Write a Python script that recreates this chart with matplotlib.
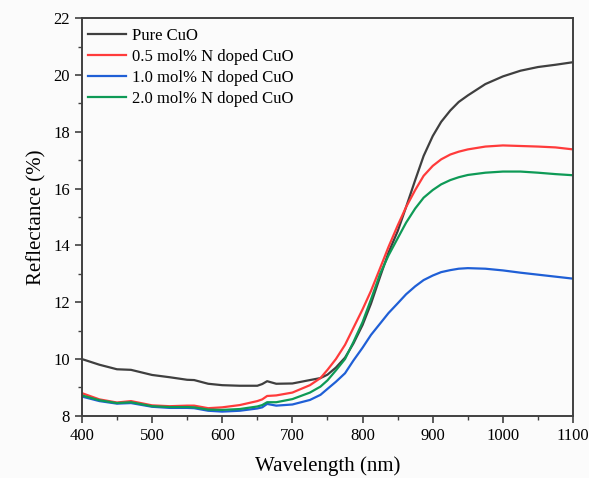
import matplotlib
matplotlib.use("Agg")
import matplotlib.pyplot as plt
from matplotlib.ticker import MultipleLocator

wavelength = [400, 425, 450, 470, 500, 525, 550, 560, 580, 600, 625, 650, 657, 664, 677,
              700, 725, 740, 750, 762, 775, 787, 800, 812, 825, 837, 850, 862, 875, 887,
              900, 912, 925, 937, 950, 975, 1000, 1025, 1050, 1075, 1100]

pure_cuo = [10.0, 9.8, 9.64, 9.62, 9.44, 9.36, 9.27, 9.26, 9.13, 9.08, 9.06, 9.06, 9.12, 9.22, 9.13,
            9.14, 9.26, 9.33, 9.45, 9.7, 10.05, 10.55, 11.2, 11.95, 12.9, 13.75, 14.5, 15.35, 16.3, 17.15,
            17.85, 18.35, 18.75, 19.05, 19.28, 19.68, 19.95, 20.15, 20.28, 20.36, 20.45]

n05_cuo = [8.8, 8.58, 8.47, 8.52, 8.37, 8.34, 8.36, 8.36, 8.27, 8.30, 8.38, 8.52, 8.58, 8.70, 8.72,
           8.82, 9.08, 9.33, 9.62, 10.0, 10.5, 11.1, 11.75, 12.4, 13.2, 13.95, 14.7, 15.35, 15.95, 16.45,
           16.8, 17.03, 17.2, 17.3, 17.38, 17.48, 17.52, 17.5, 17.48, 17.45, 17.38]

n10_cuo = [8.68, 8.52, 8.43, 8.45, 8.32, 8.28, 8.28, 8.27, 8.18, 8.15, 8.18, 8.26, 8.3, 8.42, 8.36,
           8.4, 8.56, 8.74, 8.95, 9.2, 9.5, 9.95, 10.4, 10.85, 11.25, 11.62, 11.96, 12.28, 12.56, 12.78,
           12.94, 13.06, 13.13, 13.18, 13.2, 13.18, 13.12, 13.04, 12.97, 12.9, 12.83]

n20_cuo = [8.72, 8.55, 8.45, 8.48, 8.34, 8.31, 8.31, 8.30, 8.22, 8.21, 8.24, 8.33, 8.38, 8.48, 8.48,
           8.59, 8.82, 9.03, 9.25, 9.6, 10.0, 10.6, 11.3, 12.1, 13.0, 13.65, 14.25, 14.8, 15.3, 15.68,
           15.95, 16.15, 16.3, 16.4, 16.48, 16.56, 16.6, 16.6, 16.56, 16.51, 16.47]

labels = ["Pure CuO", "0.5 mol% N doped CuO", "1.0 mol% N doped CuO", "2.0 mol% N doped CuO"]
colors = ["#3f3f3f", "#ff3b3b", "#1f5fd6", "#0e9a56"]

plt.rcParams['font.family'] = ['Liberation Serif', 'DejaVu Serif']
plt.rcParams['mathtext.fontset'] = 'stix'

fig = plt.figure(figsize=(5.89, 4.78), dpi=100, facecolor='#fbfbfb')
ax = fig.add_axes([0.139, 0.130, 0.834, 0.832], facecolor='#fbfbfb')

for series, lab, col in zip([pure_cuo, n05_cuo, n10_cuo, n20_cuo], labels, colors):
    ax.plot(wavelength, series, color=col, lw=1.6, label=lab)

ax.set_xlim(400, 1100)
ax.set_ylim(8, 22)
ax.xaxis.set_major_locator(MultipleLocator(100))
ax.xaxis.set_minor_locator(MultipleLocator(50))
ax.yaxis.set_major_locator(MultipleLocator(2))
ax.yaxis.set_minor_locator(MultipleLocator(1))

for s in ax.spines.values():
    s.set_color('#404040')
    s.set_linewidth(1.4)

ax.tick_params(which='major', direction='out', length=5, width=1.2, color='#404040',
               labelsize=12, top=False, right=False)
ax.tick_params(which='minor', direction='out', length=3, width=1.0, color='#404040',
               top=False, right=False)

ax.set_xlabel("Wavelength (nm)", fontsize=15, labelpad=9)
ax.set_ylabel("Reflectance (%)", fontsize=15, labelpad=5)

ax.legend(loc='upper left', frameon=False, fontsize=12, handlelength=2.3,
          handletextpad=0.35, labelspacing=0.3, borderaxespad=0.2,
          bbox_to_anchor=(-0.008, 1.0))

fig.savefig("out.png", dpi=100, facecolor=fig.get_facecolor())
